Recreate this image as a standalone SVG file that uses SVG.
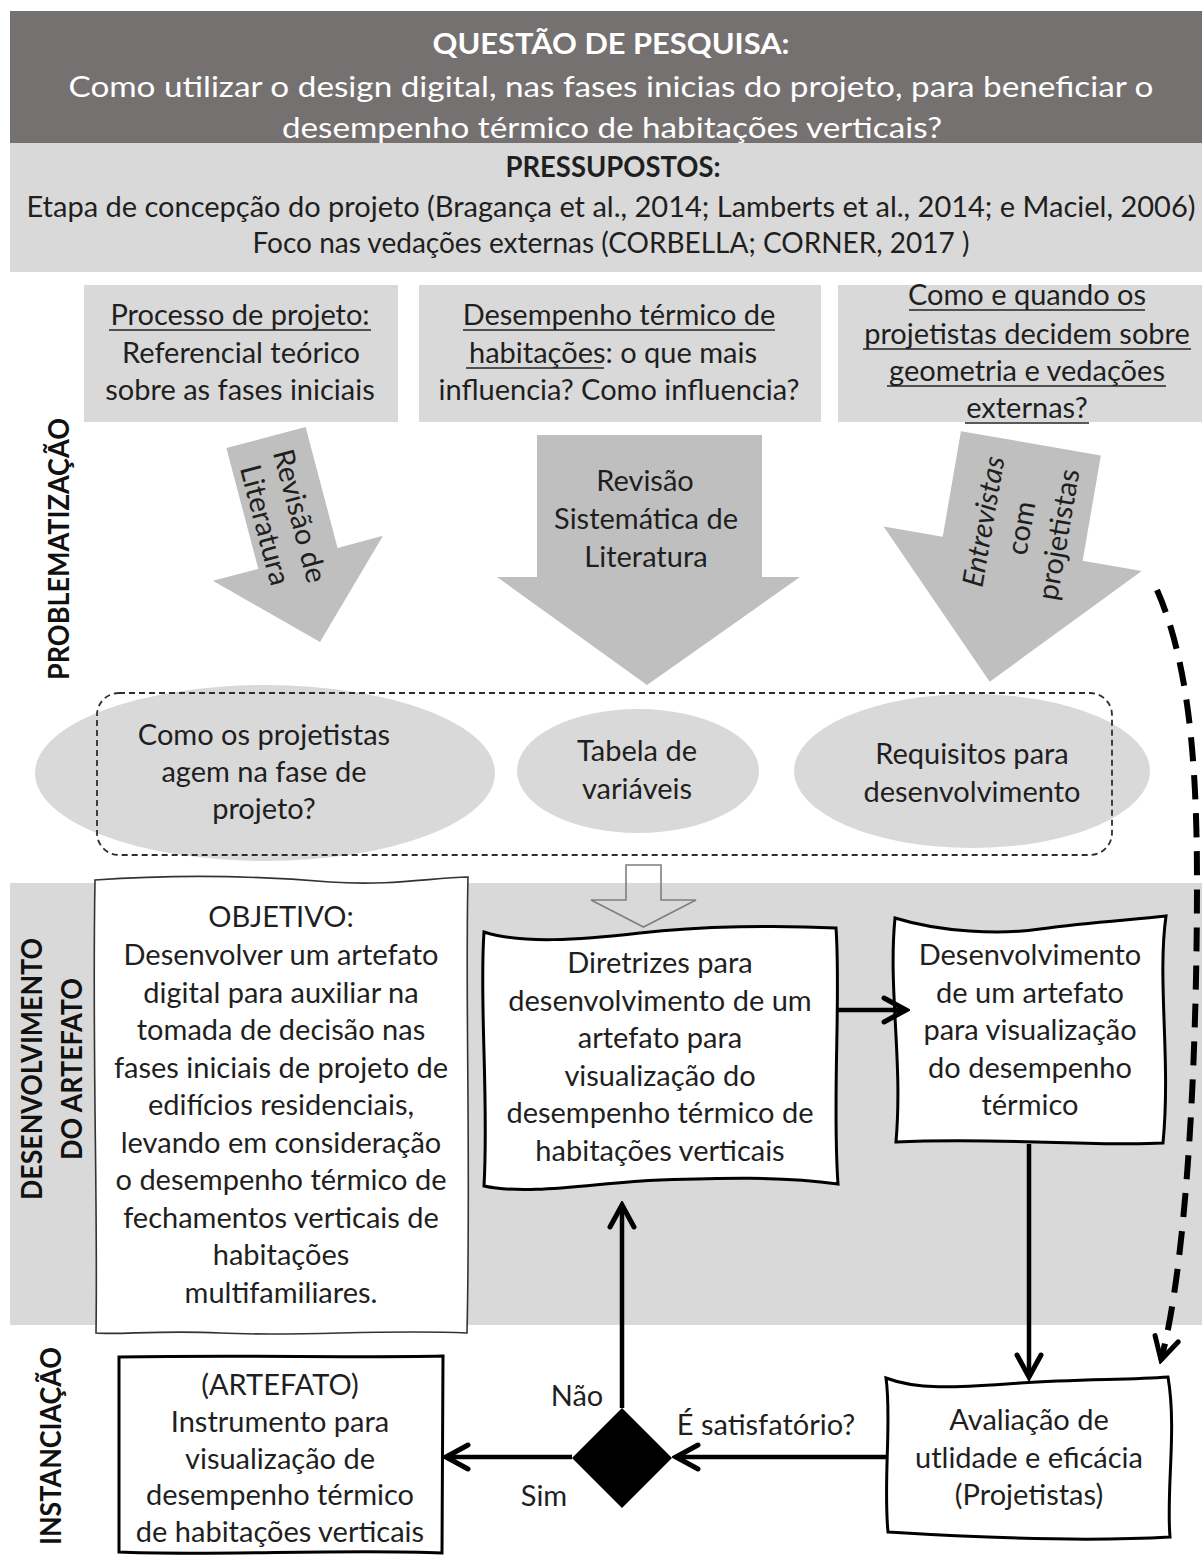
<svg xmlns="http://www.w3.org/2000/svg" width="1202" height="1555" viewBox="0 0 1202 1555">
<defs>
<style>
.t{font-family:Lato,'Open Sans','Liberation Sans',sans-serif;font-size:29px;fill:#1f1f1f;text-anchor:middle}
.w{fill:#ffffff}
.b{font-weight:bold}
.lbl{font-family:Lato,'Open Sans','Liberation Sans',sans-serif;font-size:28px;font-weight:bold;fill:#111;text-anchor:middle}
.light{fill:#d9d9d9}
.big{fill:#bfbfbf}
.ul{stroke:#222;stroke-width:1.6}
.box{fill:#ffffff;stroke:#000;stroke-width:3}
.conn{fill:none;stroke:#000;stroke-width:4.5}
</style>
<marker id="vhead" markerUnits="userSpaceOnUse" markerWidth="30" markerHeight="30" viewBox="0 0 30 30" refX="26" refY="15" orient="auto">
<path d="M4,3 L26,15 L4,27" fill="none" stroke="#000" stroke-width="5" stroke-linecap="round" stroke-linejoin="miter"/>
</marker>
</defs>
<rect width="1202" height="1555" fill="#ffffff"/>

<!-- header -->
<g id="question">
<rect x="10" y="11" width="1192" height="132" fill="#767171"/>
<text class="t w b" x="611" y="54" font-size="29" textLength="357" lengthAdjust="spacingAndGlyphs">QUESTÃO DE PESQUISA:</text>
<text class="t w" x="611" y="97" font-size="31" textLength="1085" lengthAdjust="spacingAndGlyphs">Como utilizar o design digital, nas fases inicias do projeto, para beneficiar o</text>
<text class="t w" x="612" y="138" font-size="31" textLength="660" lengthAdjust="spacingAndGlyphs">desempenho térmico de habitações verticais?</text>
</g>
<g id="assumptions">
<rect class="light" x="10" y="143" width="1192" height="129"/>
<text class="t b" x="613" y="177" font-size="28" textLength="215" lengthAdjust="spacingAndGlyphs">PRESSUPOSTOS:</text>
<text class="t" x="611" y="217" textLength="1169" lengthAdjust="spacingAndGlyphs">Etapa de concepção do projeto (Bragança et al., 2014; Lamberts et al., 2014; e Maciel, 2006)</text>
<text class="t" x="611" y="253" textLength="717" lengthAdjust="spacingAndGlyphs">Foco nas vedações externas (CORBELLA; CORNER, 2017 )</text>
</g>

<!-- phase bands and labels -->
<g id="band-desenvolvimento">
<rect class="light" x="10" y="883" width="1192" height="442"/>
</g>
<g id="label-problematizacao" transform="translate(58.5,549) rotate(-90)">
<text class="lbl" x="0" y="10" textLength="262" lengthAdjust="spacingAndGlyphs">PROBLEMATIZAÇÃO</text>
</g>
<g id="label-desenvolvimento" transform="translate(52,1069) rotate(-90)">
<text class="lbl" x="0" y="-10" textLength="262" lengthAdjust="spacingAndGlyphs">DESENVOLVIMENTO</text>
<text class="lbl" x="0" y="30" textLength="182" lengthAdjust="spacingAndGlyphs">DO ARTEFATO</text>
</g>
<g id="label-instanciacao" transform="translate(50.5,1446) rotate(-90)">
<text class="lbl" x="0" y="10" textLength="198" lengthAdjust="spacingAndGlyphs">INSTANCIAÇÃO</text>
</g>

<!-- top boxes -->
<g id="box-processo">
<rect class="light" x="84" y="285" width="314" height="137"/>
<text class="t" x="240" y="325">Processo de projeto:</text>
<line class="ul" x1="109" y1="330" x2="371" y2="330"/>
<text class="t" x="241" y="363">Referencial teórico</text>
<text class="t" x="240" y="400">sobre as fases iniciais</text>
</g>
<g id="box-desempenho">
<rect class="light" x="419" y="285" width="402" height="137"/>
<text class="t" x="619" y="325">Desempenho térmico de</text>
<line class="ul" x1="463" y1="330" x2="775" y2="330"/>
<text class="t" x="613" y="363">habitações: o que mais</text>
<line class="ul" x1="466" y1="368" x2="604" y2="368"/>
<text class="t" x="619" y="400">influencia? Como influencia?</text>
</g>
<g id="box-como-quando">
<rect class="light" x="838" y="285" width="364" height="137"/>
<text class="t" x="1027" y="305">Como e quando os</text>
<line class="ul" x1="909" y1="310" x2="1145" y2="310"/>
<text class="t" x="1027" y="344">projetistas decidem sobre</text>
<line class="ul" x1="863" y1="349" x2="1191" y2="349"/>
<text class="t" x="1027" y="381">geometria e vedações</text>
<line class="ul" x1="887" y1="386" x2="1166" y2="386"/>
<text class="t" x="1027" y="418">externas?</text>
<line class="ul" x1="965" y1="423" x2="1089" y2="423"/>
</g>

<!-- big gray arrows -->
<g id="arrow-revisao">
<polygon class="big" transform="translate(266,437.5) rotate(-14.8)" points="-41,0 41,0 41,125 88,125 0,211.5 -88,125 -41,125"/>
<g transform="translate(282.5,520.5) rotate(75.2)">
<text class="t" x="0" y="-8">Revisão de</text>
<text class="t" x="0" y="28">Literatura</text>
</g>
</g>
<g id="arrow-sistematica">
<polygon class="big" points="537,435 762,435 762,577 800,577 647,685 497,577 537,577"/>
<text class="t" x="645" y="491">Revisão</text>
<text class="t" x="646" y="529">Sistemática de</text>
<text class="t" x="646" y="567">Literatura</text>
</g>
<g id="arrow-entrevistas">
<polygon class="big" transform="translate(1030.9,443.3) rotate(9.8)" points="-71,0 71,0 71,107 131,107 0,242 -131,107 -71,107"/>
<g transform="translate(1021,528) rotate(-80.2)">
<text class="t" x="0" y="-28" font-style="italic">Entrevistas</text>
<text class="t" x="0" y="10">com</text>
<text class="t" x="0" y="48">projetistas</text>
</g>
</g>

<!-- ellipses -->
<g id="ellipse-projetistas">
<ellipse class="light" cx="265" cy="773" rx="230" ry="88"/>
<text class="t" x="264" y="745">Como os projetistas</text>
<text class="t" x="264" y="782">agem na fase de</text>
<text class="t" x="264" y="819">projeto?</text>
</g>
<g id="ellipse-tabela">
<ellipse class="light" cx="638" cy="771" rx="121" ry="62"/>
<text class="t" x="637" y="761">Tabela de</text>
<text class="t" x="637" y="799">variáveis</text>
</g>
<g id="ellipse-requisitos">
<ellipse class="light" cx="972" cy="771" rx="178" ry="77"/>
<text class="t" x="972" y="764">Requisitos para</text>
<text class="t" x="972" y="802">desenvolvimento</text>
</g>
<g id="group-results">
<rect x="97" y="693" width="1015" height="162" rx="22" ry="22" fill="none" stroke="#2e2e2e" stroke-width="1.8" stroke-dasharray="6 4"/>
</g>

<!-- objective -->
<g id="box-objetivo">
<path d="M95,880 C180,874 260,876 330,882 C390,886 430,878 468,877 C465,1000 471,1150 467,1333 C380,1329 300,1337 220,1333 C160,1330 120,1335 96,1333 C98,1200 92,1050 95,880 Z" fill="#ffffff" stroke="#333" stroke-width="1.6"/>
<text class="t" x="281" y="927">OBJETIVO:</text>
<text class="t" x="281" y="965">Desenvolver um artefato</text>
<text class="t" x="281" y="1002.5">digital para auxiliar na</text>
<text class="t" x="281" y="1040">tomada de decisão nas</text>
<text class="t" x="281" y="1077.5">fases iniciais de projeto de</text>
<text class="t" x="281" y="1115">edifícios residenciais,</text>
<text class="t" x="281" y="1152.5">levando em consideração</text>
<text class="t" x="281" y="1190">o desempenho térmico de</text>
<text class="t" x="281" y="1227.5">fechamentos verticais de</text>
<text class="t" x="281" y="1265">habitações</text>
<text class="t" x="281" y="1302.5">multifamiliares.</text>
</g>

<!-- process boxes -->
<g id="box-diretrizes">
<path class="box" d="M484,932 C520,944 580,940 640,933 C700,926 780,925 836,928 C841,1000 832,1100 838,1184 C780,1176 720,1178 660,1180 C600,1182 530,1196 484,1186 C489,1100 479,1000 484,932 Z"/>
<text class="t" x="660" y="973">Diretrizes para</text>
<text class="t" x="660" y="1010.5">desenvolvimento de um</text>
<text class="t" x="660" y="1048">artefato para</text>
<text class="t" x="660" y="1085.5">visualização do</text>
<text class="t" x="660" y="1123">desempenho térmico de</text>
<text class="t" x="660" y="1160.5">habitações verticais</text>
</g>
<g id="box-desenvolvimento">
<path class="box" d="M895,918 C940,932 1000,935 1040,929 C1090,922 1130,920 1166,916 C1157,980 1171,1060 1163,1143 C1100,1147 1000,1137 896,1142 C903,1060 888,990 895,918 Z"/>
<text class="t" x="1030" y="965">Desenvolvimento</text>
<text class="t" x="1030" y="1003">de um artefato</text>
<text class="t" x="1030" y="1040">para visualização</text>
<text class="t" x="1030" y="1078">do desempenho</text>
<text class="t" x="1030" y="1115">térmico</text>
</g>
<g id="box-avaliacao">
<path class="box" stroke-width="2.5" d="M886,1378 C920,1391 960,1387 1020,1383 C1080,1379 1130,1380 1168,1377 C1177,1430 1166,1490 1170,1537 C1100,1541 1000,1539 888,1532 C883,1480 892,1420 886,1378 Z"/>
<text class="t" x="1029" y="1430">Avaliação de</text>
<text class="t" x="1029" y="1468">utlidade e eficácia</text>
<text class="t" x="1029" y="1505">(Projetistas)</text>
</g>
<g id="box-artefato">
<path class="box" stroke-width="2.5" d="M119,1357 C250,1355 350,1358 443,1356 L442,1553 C350,1549 200,1556 119,1552 Z"/>
<text class="t" x="280" y="1395">(ARTEFATO)</text>
<text class="t" x="280" y="1432">Instrumento para</text>
<text class="t" x="280" y="1468.5">visualização de</text>
<text class="t" x="280" y="1505">desempenho térmico</text>
<text class="t" x="280" y="1542">de habitações verticais</text>
</g>
<g id="decision">
<polygon points="622,1408 672,1458 622,1508 572,1458" fill="#000"/>
<text class="t" x="766" y="1435">É satisfatório?</text>
</g>

<!-- connectors -->
<g id="connectors">
<polygon points="626,865 661,865 661,900 696,900 643.5,927 591,900 626,900" fill="none" stroke="#7f7f7f" stroke-width="1.6" stroke-linejoin="miter"/>
<path class="conn" d="M837,1010 L906,1010" marker-end="url(#vhead)"/>
<path class="conn" d="M1029,1144 L1029,1377" marker-end="url(#vhead)"/>
<path class="conn" d="M886,1457 L676,1457" marker-end="url(#vhead)"/>
<path class="conn" d="M572,1457 L446,1457" marker-end="url(#vhead)"/>
<path class="conn" d="M622,1408 L622,1205" marker-end="url(#vhead)"/>
<path d="M1157,590 C1188,660 1197,760 1197,880 C1197,1080 1185,1270 1161,1360" fill="none" stroke="#000" stroke-width="6" stroke-dasharray="24 14" marker-end="url(#vhead)"/>
<text class="t" x="577" y="1406">Não</text>
<text class="t" x="544" y="1506">Sim</text>
</g>
</svg>
